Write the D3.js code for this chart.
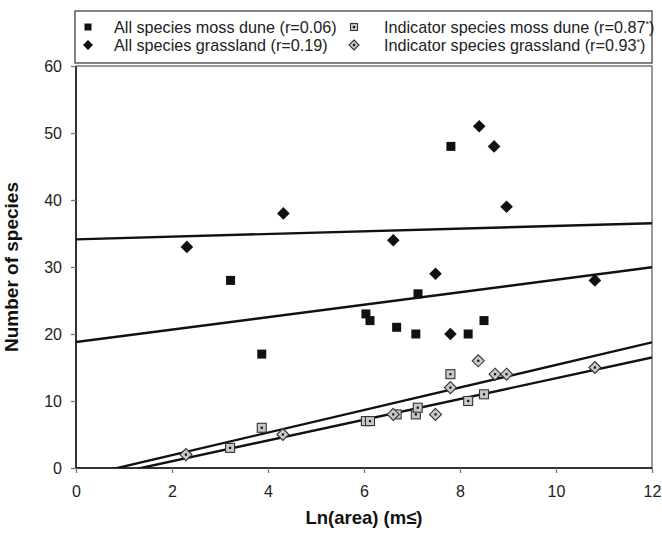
<!DOCTYPE html>
<html>
<head>
<meta charset="utf-8">
<script src="https://cdn.jsdelivr.net/npm/d3@7"></script>
<style>
  body { margin: 0; background: #fff; }
  svg { display: block; font-family: "Liberation Sans", Arial, sans-serif; }
</style>
</head>
<body>
<svg id="chart" width="662" height="534"></svg>
<script>
// ---- data ----
const mossAllX = [3.22, 3.87, 6.04, 6.125, 6.68, 7.08, 7.125, 7.81, 8.17, 8.5];
const mossAllY = [28, 17, 23, 22, 21, 20, 26, 48, 20, 22];
const grassAllX = [2.31, 4.32, 6.61, 7.49, 7.8, 8.4, 8.71, 8.97, 10.81];
const grassAllY = [33, 38, 34, 29, 20, 51, 48, 39, 28];
const mossIndX = [3.21, 3.87, 6.04, 6.125, 6.68, 7.08, 7.12, 7.8, 8.17, 8.5];
const mossIndY = [3, 6, 7, 7, 8, 8, 9, 14, 10, 11];
const grassIndX = [2.29, 4.31, 6.61, 7.49, 7.8, 8.38, 8.73, 8.97, 10.81];
const grassIndY = [2, 5, 8, 8, 12, 16, 14, 14, 15];
// trend lines: [intercept, slope]
const trendNames = ["mossAll", "grassAll", "mossInd", "grassInd"];
const trendIntercepts = [18.8, 34.13, -2.092, -1.448];
const trendSlopes = [0.93, 0.2, 1.549, 1.684];
const xTicks = [0, 2, 4, 6, 8, 10, 12];
const yTicks = [0, 10, 20, 30, 40, 50, 60];
const legendLabels = [
  ["All species moss dune (r=0.06)", ""],
  ["All species grassland (r=0.19)", ""],
  ["Indicator species moss dune (r=0.87", ")"],
  ["Indicator species grassland (r=0.93", ")"]
];
const xTitle = "Ln(area) (m≤)";
const yTitle = "Number of species";

// ---- chart ----
const svg = d3.select("#chart");
const x = d3.scaleLinear().domain([0, 12]).range([76, 652]);
const y = d3.scaleLinear().domain([0, 60]).range([468, 66]);

// plot frame
svg.append("rect")
  .attr("x", x(0)).attr("y", y(60))
  .attr("width", x(12) - x(0)).attr("height", y(0) - y(60))
  .attr("fill", "none").attr("stroke", "#555").attr("stroke-width", 1.2);

// axes
const xAxis = svg.append("g").attr("transform", `translate(0,${y(0)})`)
  .call(d3.axisBottom(x).tickValues(xTicks).tickFormat(d3.format("d")).tickSize(5).tickPadding(13));
const yAxis = svg.append("g").attr("transform", `translate(${x(0)},0)`)
  .call(d3.axisLeft(y).tickValues(yTicks).tickFormat(d3.format("d")).tickSize(5).tickPadding(9));
[xAxis, yAxis].forEach(g => {
  g.select(".domain").attr("stroke", "#111").attr("stroke-width", 1.5);
  g.selectAll(".tick line").attr("stroke", "#777").attr("stroke-width", 1.3);
  g.selectAll(".tick text").attr("fill", "#222").style("font-size", "16px")
    .style("font-family", "'Liberation Sans', Arial, sans-serif");
});
yAxis.select(".domain").attr("d", `M0,${y(60)}V${y(0)}`);
xAxis.select(".domain").attr("d", `M${x(0)},0H${x(12)}`);

// trend lines (clipped)
svg.append("clipPath").attr("id", "clip").append("rect")
  .attr("x", x(0)).attr("y", y(60)).attr("width", x(12) - x(0)).attr("height", y(0) - y(60));
const lineGen = d3.line().x(d => x(d[0])).y(d => y(d[1]));
const gLines = svg.append("g").attr("clip-path", "url(#clip)");
trendNames.forEach((n, i) => {
  const pts = [0, 12].map(v => [v, trendIntercepts[i] + trendSlopes[i] * v]);
  gLines.append("path").attr("d", lineGen(pts))
    .attr("fill", "none").attr("stroke", "#111").attr("stroke-width", 2.4);
});

// marker helpers
function drawSquare(g, cx, cy, s, fill, stroke, dot) {
  g.append("rect").attr("x", cx - s / 2).attr("y", cy - s / 2).attr("width", s).attr("height", s)
    .attr("fill", fill).attr("stroke", stroke).attr("stroke-width", stroke === "none" ? 0 : 1.1);
  if (dot) g.append("rect").attr("x", cx - 1.1).attr("y", cy - 1.1).attr("width", 2.2).attr("height", 2.2).attr("fill", "#111");
}
function drawDiamond(g, cx, cy, r, fill, stroke, dot) {
  g.append("path").attr("d", `M${cx},${cy - r}L${cx + r},${cy}L${cx},${cy + r}L${cx - r},${cy}Z`)
    .attr("fill", fill).attr("stroke", stroke).attr("stroke-width", stroke === "none" ? 0 : 1.1);
  if (dot) g.append("rect").attr("x", cx - 1.1).attr("y", cy - 1.1).attr("width", 2.2).attr("height", 2.2).attr("fill", "#111");
}

const gPts = svg.append("g");
mossIndX.forEach((v, i) => drawSquare(gPts, x(v), y(mossIndY[i]), 9, "#c8c8c8", "#333", true));
grassIndX.forEach((v, i) => drawDiamond(gPts, x(v), y(grassIndY[i]), 6, "#c8c8c8", "#333", true));
mossAllX.forEach((v, i) => drawSquare(gPts, x(v), y(mossAllY[i]), 9, "#111", "none", false));
grassAllX.forEach((v, i) => drawDiamond(gPts, x(v), y(grassAllY[i]), 6.3, "#111", "none", false));

// legend
const leg = svg.append("g");
leg.append("rect").attr("x", 75).attr("y", 11).attr("width", 577).attr("height", 52)
  .attr("fill", "#fff").attr("stroke", "#333").attr("stroke-width", 1.2);
const legPos = [[88, 27, 114], [88, 45, 114], [354, 27, 384], [354, 45, 384]];
drawSquare(leg, legPos[0][0], legPos[0][1], 7, "#111", "none", false);
drawDiamond(leg, legPos[1][0], legPos[1][1], 5, "#111", "none", false);
drawSquare(leg, legPos[2][0], legPos[2][1], 7, "#c8c8c8", "#333", true);
drawDiamond(leg, legPos[3][0], legPos[3][1], 5, "#c8c8c8", "#333", true);
legendLabels.forEach((lab, i) => {
  const t = leg.append("text").attr("x", legPos[i][2]).attr("y", legPos[i][1] + 6)
    .attr("fill", "#222").style("font-size", "16.2px");
  t.append("tspan").text(lab[0]);
  if (lab[1]) {
    t.append("tspan").attr("dy", -6).style("font-size", "9px").text("*");
    t.append("tspan").attr("dy", 6).text(lab[1]);
  }
});

// axis titles
svg.append("text").attr("x", x(6)).attr("y", 524).attr("text-anchor", "middle")
  .style("font-size", "18.5px").style("font-weight", "bold").attr("fill", "#111").text(xTitle);
svg.append("text").attr("transform", `translate(18,${(y(0) + y(60)) / 2}) rotate(-90)`)
  .attr("text-anchor", "middle")
  .style("font-size", "19px").style("font-weight", "bold").attr("fill", "#111").text(yTitle);
</script>
</body>
</html>
